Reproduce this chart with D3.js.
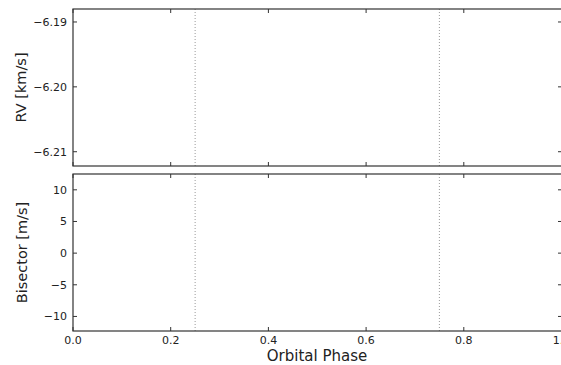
<!DOCTYPE html>
<html><head><meta charset="utf-8">
<script src="https://cdn.jsdelivr.net/npm/d3@7"></script>
<style>body{margin:0;background:#fff}svg{display:block}text{font-family:"DejaVu Sans",sans-serif;fill:#222}</style>
</head><body>
<script>
const xTicks = [0.0, 0.2, 0.4, 0.6, 0.8, 1.0];
const xTickLabels = ["0.0", "0.2", "0.4", "0.6", "0.8", "1.0"];
const rvTicks = [-6.19, -6.20, -6.21];
const rvTickLabels = ["\u22126.19", "\u22126.20", "\u22126.21"];
const bisTicks = [10, 5, 0, -5, -10];
const bisTickLabels = ["10", "5", "0", "\u22125", "\u221210"];
const phaseMarkers = [0.25, 0.75];
const rvDomain = [-6.2122, -6.188];
const bisDomain = [-12.3, 12.5];

const W = 561, H = 365;
const svg = d3.select("body").append("svg").attr("width", W).attr("height", H);
const x = d3.scaleLinear().domain([0, 1]).range([73, 561.5]);

function panel(top, bottom, domain, ticks, labels, ylabel, labelX, showX) {
  const y = d3.scaleLinear().domain(domain).range([bottom, top]);
  const g = svg.append("g");
  g.selectAll("line.m").data(phaseMarkers).enter().append("line")
    .attr("x1", d => x(d)).attr("x2", d => x(d)).attr("y1", top).attr("y2", bottom)
    .attr("stroke", "#999").attr("stroke-width", 1).attr("stroke-dasharray", "1,2");
  const tl = 4;
  xTicks.forEach(t => {
    g.append("line").attr("x1", x(t)).attr("x2", x(t)).attr("y1", bottom).attr("y2", bottom - tl).attr("stroke", "#333");
    g.append("line").attr("x1", x(t)).attr("x2", x(t)).attr("y1", top).attr("y2", top + tl).attr("stroke", "#333");
  });
  ticks.forEach((t, i) => {
    g.append("line").attr("x1", 73).attr("x2", 73 + tl).attr("y1", y(t)).attr("y2", y(t)).attr("stroke", "#333");
    g.append("line").attr("x1", 558).attr("x2", 562).attr("y1", y(t)).attr("y2", y(t)).attr("stroke", "#333");
    g.append("text").attr("x", 67).attr("y", y(t)).attr("dy", "0.35em").attr("text-anchor", "end")
      .attr("font-size", 11).text(labels[i]);
  });
  g.append("rect").attr("x", 73).attr("y", top).attr("width", 562 - 73).attr("height", bottom - top)
    .attr("fill", "none").attr("stroke", "#333").attr("stroke-width", 1.2);
  g.append("text").attr("transform", `translate(${labelX},${(top + bottom) / 2}) rotate(-90)`)
    .attr("text-anchor", "middle").attr("font-size", 14.5).text(ylabel);
  if (showX) {
    xTicks.forEach((t, i) => {
      g.append("text").attr("x", x(t)).attr("y", bottom + 13).attr("text-anchor", "middle")
        .attr("font-size", 11).text(xTickLabels[i]);
    });
  }
  return y;
}

panel(9, 166, rvDomain, rvTicks, rvTickLabels, "RV [km/s]", 26, false);
panel(174, 331, bisDomain, bisTicks, bisTickLabels, "Bisector [m/s]", 27, true);
svg.append("text").attr("x", 317).attr("y", 361).attr("text-anchor", "middle").attr("font-size", 15).text("Orbital Phase");
</script>
</body></html>
